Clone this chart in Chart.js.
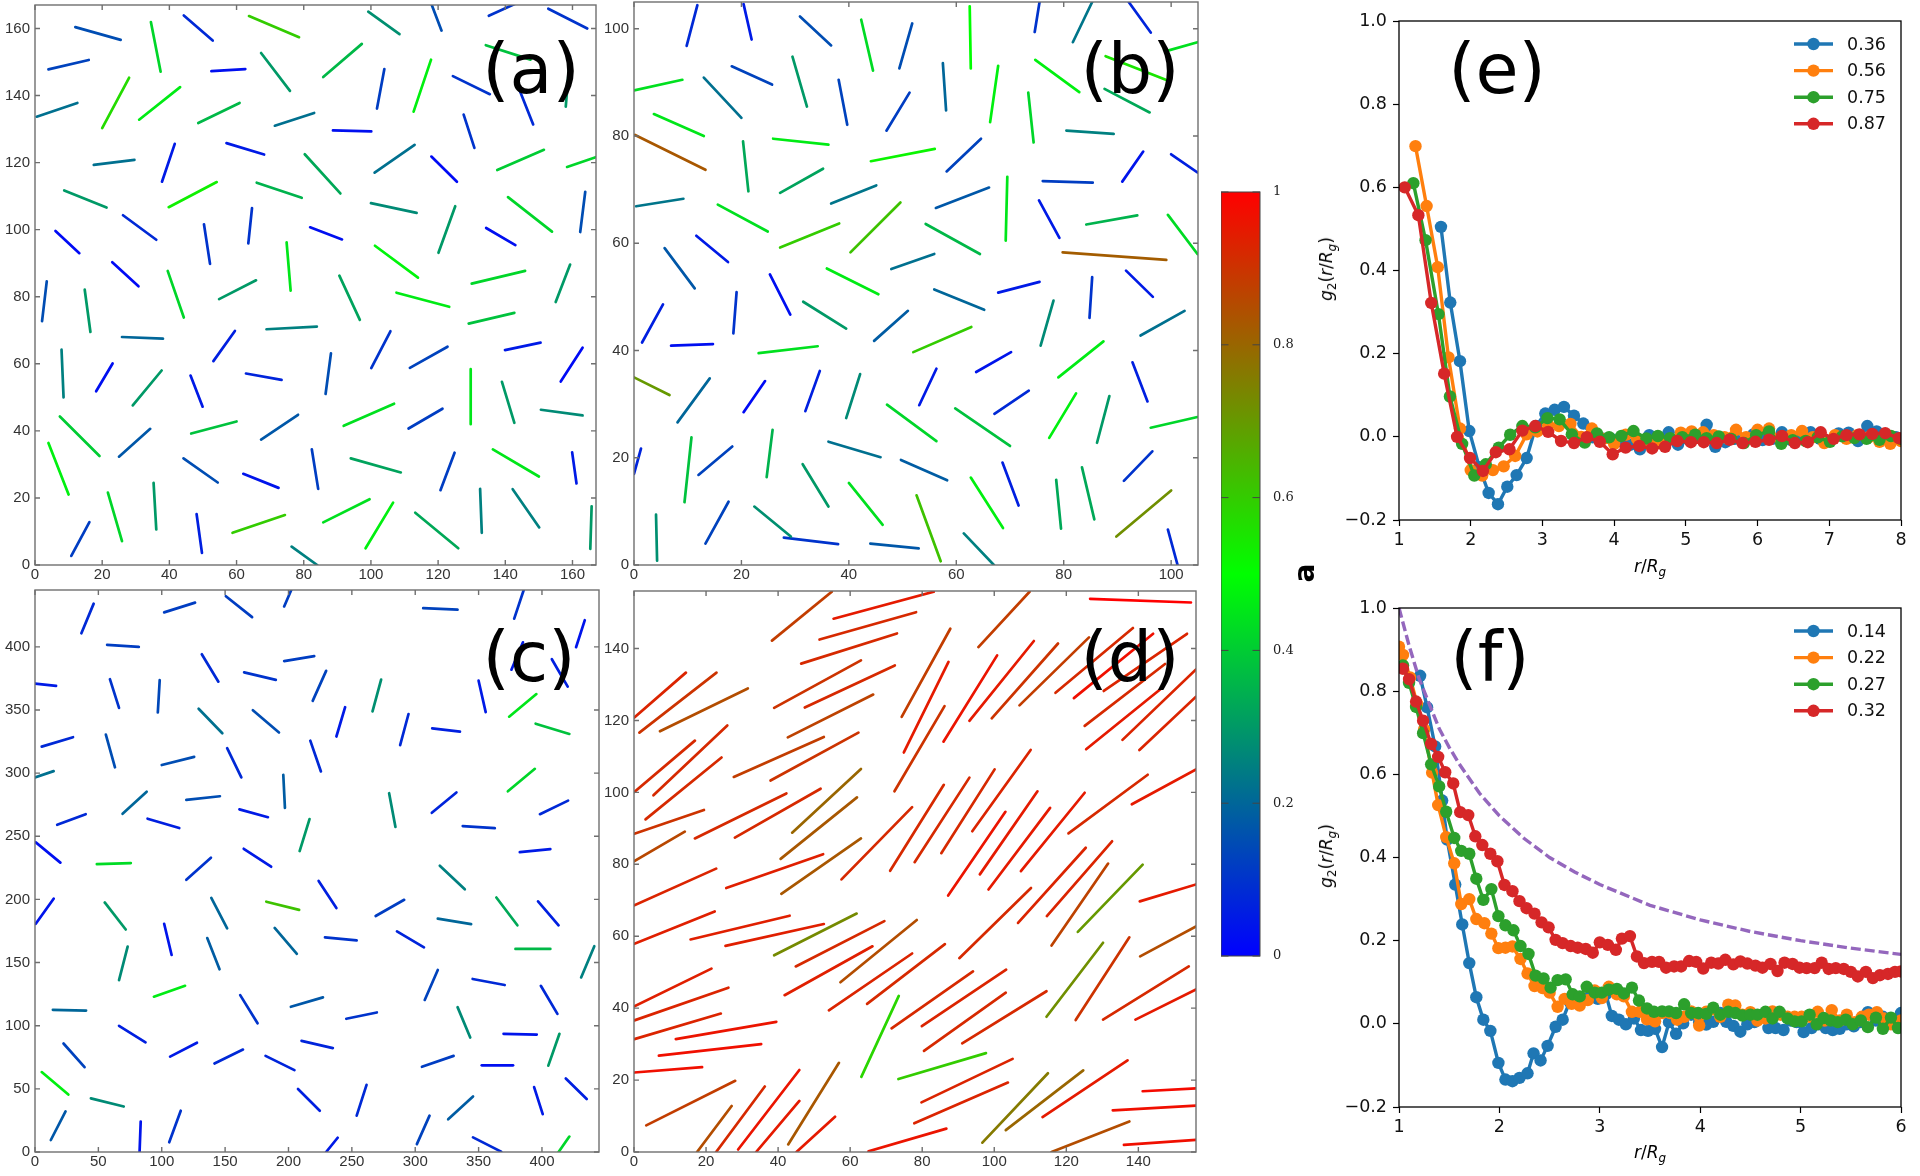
<!DOCTYPE html>
<html>
<head>
<meta charset="utf-8">
<title>Rod configurations and g2</title>
<script src="https://cdn.jsdelivr.net/npm/chart.js@4"></script>
<style>
  html, body { margin: 0; background: #fff; }
  body { position: relative; width: 1920px; height: 1176px; overflow: hidden; }
  canvas { position: absolute; }
  .label { position: absolute; white-space: nowrap; font-family: "DejaVu Sans"; color: #000; }
  sub { font-size: .7em; line-height: 0; }
</style>
</head>
<body>
<script>
// each row: x1, y1, x2, y2, a
const segmentsA = [
  [12,160.4,25.5,156.6,.15],[34.5,161.9,37.4,147.1,.42],[44.3,163.9,52.9,156.4,.08],[63.7,163.7,78.6,157.4,.6],
  [99.2,165,108.5,158.3,.28],[118,167.3,121,159.4,.15],[135.1,163.8,142.8,167.3,.1],[152.8,165.9,164.4,160,.1],
  [4,147.8,16,150.6,.13],[52.5,147.3,62.6,147.9,.03],[67.3,152.7,75.9,141.4,.3],[85.8,145.5,97.3,155.4,.36],
  [104,147.9,101.8,136.1,.12],[117.9,150.7,112.7,135.2,.47],[134.2,155,147.5,150.7,.38],[124.4,145.8,135.4,140.4,.1],
  [158.9,147.7,158,136.7,.3],[.5,133.7,12.6,137.8,.22],[28,145.3,20,130.3,.57],[31,132.8,43.2,142.5,.46],
  [48.6,131.8,60.9,137.8,.36],[71.4,131,83.1,134.8,.22],[88.7,129.6,100.1,129.3,.03],[144.2,141.7,148.3,131.4,.08],
  [127.6,134.3,130.8,124.4,.1],[57,125.8,68.2,122.4,.05],[17.5,119.3,29.6,120.8,.22],[37.8,114.3,41.6,125.6,.05],
  [80.3,122.5,90.9,110.8,.33],[101.1,117,113,125.3,.22],[118,121.8,125.6,114.3,.02],[137.6,117.8,151.5,123.8,.4],
  [158.4,118.7,166.9,121.6,.42],[8.7,111.7,21.3,106.6,.3],[39.8,106.7,54.1,114.2,.53],[66,114,79.4,109.5,.35],
  [100,107.9,113.6,105,.27],[125.1,107,120.1,93.1,.3],[140.8,109.7,153.9,99.4,.42],[163.8,111.3,162.3,99.3,.15],
  [26.2,104.3,36.1,97,.08],[50.3,101.6,52.1,89.8,.1],[64.6,106.4,63.5,95.9,.1],[81.9,100.7,91.4,97.1,.03],
  [134.3,100.5,143,95.4,.03],[6.1,99.6,13.2,93,.02],[74.9,96.2,76.1,81.8,.45],[101.2,95.2,114,85.7,.48],
  [23,90.3,30.8,83.1,.02],[39.5,87.7,44.3,73.8,.42],[90.6,86.3,96.7,73.1,.32],[54.8,79.3,65.8,84.9,.3],
  [130,83.9,145.9,87.7,.42],[159.3,89.6,155,78.4,.3],[107.6,81.2,123.3,77,.46],[3.5,84.6,2.1,72.7,.15],
  [14.8,82.1,16.5,69.5,.3],[25.9,68,38.1,67.5,.2],[53.1,60.8,59.5,69.8,.06],[68.9,70.3,83.9,71.1,.25],
  [105.8,69.7,100.1,58.7,.1],[129.1,72,142.7,75.2,.38],[7.9,64.2,8.5,50,.25],[23.1,60.1,18.2,51.8,.03],
  [37.7,58,29.1,47.6,.3],[62.8,57.1,73.4,55.2,.07],[88.1,63.1,86.5,51,.15],[111.6,58.8,122.8,65.1,.13],
  [139.9,64.1,150.5,66.3,.05],[163,64.8,156.5,54.7,.02],[46.3,56.5,49.9,47.2,.05],[129.7,58.4,129.7,42,.45],
  [139,54.6,142.7,42.4,.3],[150.6,46.3,163,44.6,.27],[91.9,41.5,106.9,48.1,.44],[67.3,37.4,78.3,44.8,.17],
  [46.5,39.2,60,42.8,.38],[111.2,40.7,121.3,46.6,.12],[7.4,44.3,19.2,32.5,.4],[25,32.3,34.3,40.6,.17],
  [4,36.4,10,21,.47],[44.2,31.8,54.4,24.6,.15],[62,27.2,72.5,23,.04],[82.4,34.5,84.3,22.7,.12],
  [94,31.8,108.9,27.6,.32],[124.9,33.5,120.7,22.3,.12],[136.3,34.5,150,26.4,.45],[159.9,33.6,161.2,24.3,.05],
  [21.7,21.6,25.9,7.1,.42],[35.3,24.5,36.1,10.6,.3],[16.2,12.8,10.8,2.7,.12],[48.1,15.2,49.7,3.6,.06],
  [58.8,9.6,74.4,14.9,.6],[85.8,12.7,99.6,19.6,.44],[106.6,18.6,98.4,5,.47],[113.2,15.6,126,5,.33],
  [132.5,22.7,133,9.6,.25],[142.2,22.6,150.1,11.2,.25],[165.7,17.5,165.3,4.8,.3],[76.4,5.5,84,0,.25]
];
const segmentsB = [
  [11.8,104.4,9.8,96.8,.08],[20.4,104.6,21.9,98,.05],[30.9,102.3,36.7,96.9,.15],[42.3,101.7,44.5,92.2,.43],
  [51.8,101,49.4,92.6,.15],[62.5,104.2,62.7,92.6,.5],[75.5,105,74.6,99.4,.1],[85.3,105,81.7,97.5,.23],
  [92.1,105,96.2,99.3,.07],[98.9,95.8,104.9,97.5,.44],[87.8,94.9,99,90.5,.55],[0,88.5,9,90.5,.44],
  [18.2,93,25.7,89.6,.13],[29.5,94.8,32.2,85.5,.3],[38.1,90.5,39.7,82.1,.13],[51.3,88.1,47,81,.12],
  [57.5,93.6,58.1,84.8,.2],[67.8,93.1,66.3,82.6,.47],[74.7,94.2,82.9,88.2,.47],[73.4,88.1,74.4,78.8,.42],
  [87.6,88.8,96,84.4,.33],[13,90.9,20,83.4,.22],[3.7,84.1,13,80,.45],[.2,80.2,13.3,73.7,.83],
  [25.9,79.5,36.2,78.4,.46],[20.3,79,21.3,69.7,.33],[44.1,75.3,56,77.6,.52],[64.6,79.5,58.2,73.4,.13],
  [80.5,81,89.3,80.4,.25],[94.8,77.1,90.9,71.5,.04],[100,76.6,104.9,73.2,.06],[27.2,69.4,35.2,73.9,.32],
  [36.7,67.4,45.1,70.8,.23],[.4,66.9,9.2,68.3,.23],[56.2,66.6,66.1,70.4,.17],[76.1,71.6,85.4,71.3,.12],
  [69.5,72.4,69.2,60.5,.45],[15.6,67.2,24.9,62.2,.44],[27.2,59.2,38.2,63.7,.6],[49.6,67.6,40.3,58.3,.62],
  [54.3,63.6,64.4,58,.36],[75.4,68,79.2,61,.05],[84.2,63.5,93.7,65.2,.35],[99.4,65.3,104.9,58,.43],
  [11.6,61.4,17.5,56.5,.05],[5.7,59.1,11.3,51.6,.17],[79.8,58.3,99.1,56.9,.82],[47.9,55.2,55.9,58,.22],
  [35.9,55.3,45.5,50.5,.46],[25.3,54.2,29.1,46.7,.03],[19.1,50.9,18.5,43.2,.1],[5.4,48.6,1.5,41.5,.06],
  [31.5,49.1,39.5,44.1,.3],[55.9,51.4,65.2,47.6,.2],[67.8,50.8,75.5,52.8,.05],[85.3,53.7,84.8,46.1,.1],
  [91.6,54.9,96.6,50,.05],[51,47.4,44.7,41.8,.18],[78.1,49.3,75.7,40.9,.27],[102.5,47.4,94.3,42.8,.22],
  [6.9,40.9,14.7,41.2,.03],[23.2,39.5,34.2,40.8,.44],[52,39.7,62.8,44.4,.6],[70.2,39.7,63.7,36,.04],
  [87.4,41.7,79,35,.46],[92.8,37.8,95.6,30.5,.06],[0,35,6.6,31.7,.7],[14.1,34.8,8.1,26.6,.2],
  [34.6,36.2,31.9,28.7,.06],[42.1,35.6,39.5,27.4,.27],[56.3,36.6,53.1,29.8,.05],[24.4,34.3,20.4,28.5,.02],
  [73.5,32.5,67.1,28.2,.08],[82.3,32,77.3,23.7,.47],[88.5,31.5,86.2,22.8,.3],[47.1,29.9,56.3,23.1,.42],
  [59.8,29.2,70,22.2,.38],[96.2,25.6,104.9,27.6,.42],[25.8,25.2,24.7,16.4,.35],[10.7,23.8,9.4,11.7,.38],
  [0,17,1.3,21.7,.07],[18.3,22.1,12,16.8,.13],[36.2,23,45.9,20.1,.22],[49.7,19.6,58.3,15.8,.18],
  [96.5,21.2,91.2,15.7,.1],[31.4,18.8,36.2,10.9,.3],[40,15.3,46.3,7.5,.44],[62.7,16.3,68.7,6.9,.47],
  [68.6,19.1,71.6,11.1,.06],[78.6,15.9,79.5,6.8,.33],[83.4,18.2,85.7,8.5,.33],[100,13.9,89.8,5.3,.72],
  [17.6,11.8,13.3,4,.13],[22.4,10.9,29.2,5.3,.28],[52.6,13,57.1,.7,.62],[4.1,9.4,4.3,.8,.28],
  [27.9,5.1,38,3.9,.1],[44,4,53,3.1,.17],[61.4,5.9,67,0,.25],[99.4,6.6,101.2,0,.08]
];
const segmentsC = [
  [46.3,434.2,36.6,410.7,.08],[101.9,427.3,126.3,435,.12],[150.6,440.1,171.3,423.5,.12],[202.2,445,196.6,432,.12],
  [306.3,430.6,333.4,429.4,.13],[385.6,445,378.1,422.3,.1],[433.8,421.1,426.9,399.7,.04],[56.9,401.5,81.9,400,.12],
  [385,403.6,375.9,381.9,.05],[196.6,388.7,220.3,392.6,.12],[131.6,394.1,144.7,372.4,.08],[407.8,390.2,420.3,368.5,.06],
  [165,379.8,190,373.8,.1],[229.7,381,219.1,357.2,.13],[273.1,374.1,266.3,348.9,.28],[0,370.9,16.6,369.1,.05],
  [59.1,374.4,66.3,351.6,.1],[98.4,373.6,96.9,348,.14],[350,373.2,355.6,348.3,.05],[395.6,362.6,374.1,344.7,.45],
  [129.1,351,147.8,331.6,.22],[171.9,349.8,192.5,332.2,.15],[244.7,352.2,237.8,329,.05],[294.7,346.8,288.1,322.1,.08],
  [313.4,335.5,335.3,332.8,.06],[395,339.1,421.6,331,.38],[5.3,321,30,328.4,.08],[55.9,330.5,63.1,304.6,.15],
  [217.2,325.7,225.6,301.3,.08],[151.6,319.8,162.8,296.6,.08],[100,306.4,125.6,312.9,.15],[0,296.6,14.7,301.6,.22],
  [195.9,298.7,197.2,272.5,.18],[394.4,303.4,373.1,285.6,.42],[88.1,285.3,69.1,267.8,.2],[119.4,278.8,145.9,281.7,.15],
  [279.4,284.1,284.4,257.4,.27],[332.5,284.7,313.1,268.6,.07],[420.6,278.2,398.4,267.5,.08],[17.5,259.1,40,267.5,.08],
  [161.3,271.3,183.8,265.1,.05],[88.8,263.9,113.8,256.5,.06],[216.6,263.6,208.8,238.3,.3],[337.5,258,362.8,256.5,.1],
  [.6,245.2,20,229.1,.03],[48.8,227.9,75.6,228.8,.43],[382.5,237.4,406.6,239.8,.05],[164.7,240.1,186.3,225.9,.05],
  [138.8,233,119.4,215.5,.1],[319.4,226.7,339.1,208,.25],[223.8,214.6,237.8,193.2,.06],[291.3,199.7,268.8,186.9,.12],
  [14.7,200.6,.6,180.7,.04],[55,197.6,71.6,176.2,.3],[139.1,201.2,151.6,177.1,.2],[182.5,198.2,208.4,191.7,.62],
  [317.8,184.8,344.1,180.4,.2],[364,201.5,380.6,179.5,.33],[396.9,198.5,413.1,179.5,.06],[101.9,180.7,107.8,156,.04],
  [189.1,177.4,206.6,156.9,.2],[228.8,170,253.8,167.6,.1],[285.6,174.7,306.9,162,.07],[73.1,162.6,66.3,136.1,.27],
  [135.9,169.4,145.6,144.7,.18],[379.1,160.8,406.6,160.8,.36],[441.3,162.9,430.9,138.2,.25],[317.8,144.1,307.5,120.4,.13],
  [345.3,137,370.6,132.2,.08],[93.8,123,118.4,131.6,.46],[161.9,124.2,175.6,101.9,.1],[201.9,115,227.2,122.4,.17],
  [245.6,105.5,269.7,110.5,.1],[399.1,131.6,412.2,109.4,.08],[14.1,112.6,40.3,112,.2],[66.3,99.9,87.2,86.8,.06],
  [333.4,114.7,343.4,90.6,.27],[369.7,93.6,395.9,93,.04],[413.8,93.6,405,68.4,.3],[22.5,85.9,39.1,67.2,.13],
  [106.6,75.5,127.8,86.5,.05],[210.3,88,235,82.3,.07],[141.6,70.1,164.1,81.1,.08],[181.9,76.1,204.7,64.8,.07],
  [305.3,67.5,330.3,76.1,.12],[352.5,68.6,377.2,68.6,.03],[5.3,63.3,26.3,45.5,.47],[44.1,42.5,70,36,.27],
  [207.5,49.9,224.7,32.7,.06],[261.6,53.2,253.8,28.8,.08],[418.8,58.2,435.3,41.9,.06],[393.8,51.4,400.6,30,.05],
  [345.6,44,326,25.9,.18],[24.1,32.1,12.5,9.5,.17],[83.4,24.1,82.5,0,.04],[115,32.7,105.9,7.7,.1],
  [311.3,28.8,301.3,6.2,.13],[238.8,11.3,229.7,0,.05],[345.6,11.6,367.8,.3,.08],[421.6,12.2,413.1,0,.42]
];
const segmentsD = [
  [38.3,142.2,54.9,155.8,.88],[55.4,148.3,83.2,155.8,.95],[51.5,142.5,78.3,150.1,.92],[46.4,135.8,73,144.2,.92],
  [38.9,123.5,63,136.7,.9],[47.4,123.6,72.4,135.3,.92],[42.7,115.3,66.4,127.2,.87],[.1,120.8,14.4,133.3,.93],
  [1.5,116.6,22.9,133.3,.9],[7.2,117,31.6,128.9,.85],[.1,100.1,16.9,114.4,.92],[5.4,99.2,25.9,118.6,.92],
  [3.2,92.5,24.3,109.7,.92],[27.7,104.3,52.7,115.4,.88],[37.9,103.3,62.3,116.6,.9],[43.9,88.8,63,106.5,.8],
  [40.7,81.5,61.9,98.6,.83],[40.9,71.8,63,87.2,.83],[.1,88.5,19.4,95.1,.9],[.1,80.9,14.1,89.1,.86],
  [16.9,87.2,42.3,99.7,.92],[28,87.4,51.8,101,.92],[.1,68.6,22.8,78.8,.93],[25.6,73.4,52.5,82.8,.94],
  [.1,57.9,22.4,66.9,.94],[15.7,59.1,43.2,65.7,.94],[25.4,57.3,52.7,63.4,.94],[38.9,54.7,61.8,66.3,.73],
  [57.6,75.8,77.2,95.9,.92],[71.1,78.2,86,102.1,.92],[77.9,80.6,93.1,104.1,.92],[85.3,83.1,100.1,106.4,.92],
  [93.9,89.2,110.1,111.8,.93],[87.2,71.3,103.1,94.6,.96],[96,77.2,112,100.3,.95],[98.4,73,115.5,95.7,.95],
  [107.4,78.1,125.1,99.9,.95],[120.6,88.6,142.6,104.9,.92],[138.2,96.7,156,106.4,.95],[72.3,100.3,86.2,124,.9],
  [74.9,111.1,87.3,136.3,.95],[74.3,121,87.8,145.5,.88],[85.9,114.1,100.8,138.1,.96],[93.1,119.9,111,142.1,.95],
  [99.3,120.6,117.7,141.4,.9],[95.6,140.4,109.8,155.8,.88],[107,124.2,126.3,143.1,.88],[126.6,153.8,154.6,152.8,1],
  [117,127.7,138.5,145.7,.92],[122.1,126.2,144.1,144.1,.97],[130.4,128.2,153.5,144.1,.93],[125.1,118.5,147.4,135.7,.92],
  [125.5,112,146.1,128.7,.95],[135.6,114.6,156,134.2,.93],[140.3,111.8,156,126.6,.93],[106.6,63.7,125.4,84.6,.93],
  [114.6,65.6,132.7,86.4,.93],[115.9,57.4,131.6,80.2,.87],[123.2,61.2,141.2,79.9,.7],[90.3,53.9,110.2,73.4,.92],
  [140.4,69.7,156,74.4,.95],[140.5,54.4,156,62.7,.85],[114.5,37.6,130.2,58.2,.72],[122.6,36.7,137.5,59.7,.9],
  [130.2,36.8,154,51.6,.92],[139.2,36.8,156,45.2,.95],[44.9,51.6,69.5,64.2,.92],[41.8,43.6,66.2,57.2,.94],
  [57.3,47.2,78.5,64.5,.85],[54.1,39.4,77.2,55.2,.93],[64.7,41.2,86.3,57.8,.92],[71.5,34.4,94.1,50.2,.92],
  [79.9,35,103.3,50.7,.93],[80.5,28.1,103.2,44.3,.92],[91.1,30.2,114.5,44.7,.92],[.1,40.5,21.5,51,.94],
  [.1,36.6,26.2,45.7,.93],[.1,31.4,24.1,38.5,.93],[11.6,31.4,39.5,36.2,.96],[6.9,26.8,35.3,30,.97],
  [.1,22.1,18.9,23.6,.97],[3.4,7.4,28.1,19.8,.88],[17.5,0,27.1,12.8,.85],[22.8,0,36.3,18.2,.92],
  [28.9,.7,45.9,22.8,.96],[33.9,0,45.9,14.2,.95],[42.8,2.1,56.9,24.8,.83],[45.1,0,55.8,9.8,.95],
  [63.1,20.9,73.5,43.4,.58],[73.4,20.3,97.7,27.5,.6],[79.8,13.8,105.1,25.9,.93],[77.8,8,103.8,19.3,.93],
  [96.7,2.6,114.9,21.9,.76],[103.2,6.1,124.7,22.7,.8],[113.4,9.7,137,25.5,.95],[141.2,16.9,156,17.7,.98],
  [132.9,11.6,156,12.9,.97],[115.9,0,137.5,8.5,.85],[136,2,156,3.4,.97],[65.1,.2,86.7,6.5,.96]
];

// panel e, r/Rg and g2 pairs
const e036 = [[1.585,.505],[1.715,.323],[1.85,.182],[1.98,.014],[2.12,-.073],[2.25,-.135],[2.38,-.162],[2.51,-.12],[2.64,-.092],[2.78,-.051],[2.91,.026],[3.04,.056],[3.17,.065],[3.3,.072],[3.44,.051],[3.57,.032],[3.7,-.001],[3.83,-.004],[3.96,-.005],[4.1,-.01],[4.23,-.019],[4.36,-.03],[4.49,.004],[4.62,-.005],[4.76,.011],[4.89,-.019],[5.02,-.005],[5.15,-.001],[5.29,.029],[5.41,-.024],[5.55,-.013],[5.68,-.005],[5.81,-.008],[5.94,.006],[6.07,-.008],[6.21,-.005],[6.34,.011],[6.47,-.008],[6.6,-.003],[6.74,.011],[6.87,-.005],[7,-.01],[7.13,.008],[7.27,.01],[7.4,-.01],[7.53,.026],[7.66,.013],[7.79,.004],[7.93,-.001]];
const e056 = [[1.23,.699],[1.385,.555],[1.54,.408],[1.69,.191],[1.85,.02],[2,-.08],[2.16,-.093],[2.31,-.08],[2.46,-.071],[2.62,-.046],[2.78,.006],[2.93,.013],[3.08,.028],[3.23,.026],[3.39,.031],[3.54,0],[3.69,.02],[3.85,-.005],[4,-.017],[4.16,.005],[4.32,-.005],[4.47,-.014],[4.62,-.01],[4.78,-.005],[4.93,.01],[5.08,.013],[5.24,.011],[5.39,.004],[5.54,-.001],[5.7,.017],[5.84,-.001],[6,.017],[6.16,.02],[6.31,-.005],[6.47,.004],[6.62,.014],[6.77,-.001],[6.93,-.015],[7.08,.004],[7.24,-.005],[7.39,.004],[7.55,-.001],[7.7,-.012],[7.85,-.017],[8,-.01]];
const e075 = [[1.2,.61],[1.37,.473],[1.55,.295],[1.71,.097],[1.88,-.017],[2.05,-.093],[2.21,-.066],[2.39,-.026],[2.55,.005],[2.72,.026],[2.9,.023],[3.07,.045],[3.24,.042],[3.41,.006],[3.59,-.014],[3.76,.008],[3.93,-.001],[4.1,.002],[4.27,.014],[4.45,-.004],[4.61,.002],[4.78,-.003],[4.95,-.001],[5.13,.005],[5.29,-.003],[5.46,.001],[5.63,-.005],[5.81,-.015],[5.98,.004],[6.16,.013],[6.33,-.017],[6.49,-.008],[6.67,-.01],[6.84,-.001],[7.01,-.012],[7.18,.001],[7.35,-.003],[7.52,-.005],[7.7,-.007],[7.86,.002],[8,-.005]];
const e087 = [[1.08,.6],[1.27,.533],[1.45,.322],[1.63,.152],[1.81,0],[1.99,-.051],[2.17,-.082],[2.35,-.037],[2.54,-.03],[2.72,.015],[2.9,.026],[3.08,.012],[3.26,-.01],[3.44,-.015],[3.62,-.001],[3.8,-.012],[3.98,-.042],[4.16,-.026],[4.35,-.022],[4.53,-.028],[4.71,-.024],[4.88,-.01],[5.07,-.013],[5.25,-.013],[5.43,-.015],[5.61,-.007],[5.79,-.015],[5.97,-.012],[6.16,-.007],[6.34,.002],[6.52,-.015],[6.7,-.013],[6.88,.011],[7.06,-.005],[7.24,.004],[7.42,.006],[7.6,.007],[7.78,.009],[7.97,-.003]];

// panel f
const f014 = [[1.21,.837],[1.28,.761],[1.36,.667],[1.43,.537],[1.48,.443],[1.56,.335],[1.63,.239],[1.7,.146],[1.77,.064],[1.84,.01],[1.91,-.017],[1.99,-.094],[2.06,-.134],[2.13,-.138],[2.2,-.13],[2.28,-.119],[2.34,-.071],[2.41,-.088],[2.48,-.053],[2.56,-.007],[2.63,.01],[2.7,.053],[2.79,.057],[2.88,.062],[2.98,.06],[3.06,.071],[3.12,.019],[3.19,.01],[3.26,-.001],[3.34,.013],[3.41,-.015],[3.48,-.017],[3.55,-.012],[3.62,-.056],[3.69,.004],[3.76,-.024],[3.83,.001],[3.91,.022],[3.99,.004],[4.06,-.002],[4.13,.005],[4.2,.026],[4.26,.005],[4.33,-.005],[4.4,-.019],[4.47,-.001],[4.54,.004],[4.61,.017],[4.68,-.01],[4.75,-.01],[4.83,-.015],[4.9,.008],[4.96,.004],[5.03,-.02],[5.11,-.01],[5.18,-.001],[5.25,-.01],[5.32,-.015],[5.39,-.012],[5.46,-.001],[5.53,-.006],[5.6,.004],[5.67,.028],[5.75,.008],[5.82,.017],[5.89,.004],[6,.026]];
const f022 = [[1,.907],[1.04,.887],[1.11,.833],[1.18,.77],[1.25,.708],[1.33,.604],[1.39,.526],[1.47,.449],[1.55,.386],[1.62,.288],[1.7,.3],[1.77,.252],[1.85,.242],[1.92,.217],[1.99,.182],[2.06,.183],[2.13,.186],[2.21,.156],[2.28,.121],[2.35,.091],[2.43,.086],[2.5,.075],[2.58,.041],[2.65,.06],[2.72,.048],[2.8,.044],[2.88,.057],[2.95,.08],[3.02,.062],[3.09,.089],[3.17,.071],[3.24,.066],[3.32,.029],[3.4,.029],[3.47,.011],[3.55,.006],[3.62,.026],[3.7,.026],[3.77,.01],[3.84,.017],[3.91,.03],[3.99,-.004],[4.06,.029],[4.13,.035],[4.2,.017],[4.28,.046],[4.35,.044],[4.42,.022],[4.5,.028],[4.57,.008],[4.65,.013],[4.72,.03],[4.8,.022],[4.87,.017],[4.94,.017],[5.01,.017],[5.09,.017],[5.17,.029],[5.24,.008],[5.31,.033],[5.39,.008],[5.46,.022],[5.54,.004],[5.61,.017],[5.68,.022],[5.76,.028],[5.83,.013],[5.9,-.001],[6,.008]];
const f027 = [[1.04,.862],[1.1,.82],[1.17,.762],[1.24,.699],[1.32,.624],[1.4,.571],[1.47,.51],[1.55,.447],[1.62,.416],[1.7,.409],[1.77,.349],[1.84,.298],[1.92,.324],[1.99,.259],[2.06,.237],[2.14,.225],[2.21,.187],[2.29,.168],[2.36,.116],[2.44,.109],[2.51,.087],[2.58,.105],[2.66,.107],[2.73,.071],[2.8,.066],[2.87,.089],[2.95,.075],[3.02,.075],[3.09,.082],[3.17,.084],[3.24,.073],[3.32,.087],[3.39,.056],[3.47,.037],[3.54,.029],[3.62,.03],[3.69,.03],[3.76,.026],[3.84,.047],[3.91,.026],[3.98,.026],[4.06,.024],[4.13,.039],[4.2,.022],[4.28,.029],[4.35,.026],[4.42,.02],[4.5,.022],[4.57,.022],[4.65,.029],[4.72,.013],[4.79,.029],[4.87,.013],[4.94,.006],[5.01,.006],[5.09,.022],[5.16,-.001],[5.23,.014],[5.3,.008],[5.37,.004],[5.45,.01],[5.52,-.001],[5.6,.008],[5.67,-.008],[5.75,.015],[5.82,-.012],[5.9,.015],[5.97,-.01]];
const f032 = [[1.04,.854],[1.1,.829],[1.17,.775],[1.24,.729],[1.32,.673],[1.39,.642],[1.46,.605],[1.54,.578],[1.61,.509],[1.69,.502],[1.76,.451],[1.83,.43],[1.91,.409],[1.98,.391],[2.05,.334],[2.13,.319],[2.2,.295],[2.27,.278],[2.35,.265],[2.42,.244],[2.49,.232],[2.56,.202],[2.63,.194],[2.71,.187],[2.78,.183],[2.86,.18],[2.93,.171],[3,.196],[3.08,.19],[3.16,.178],[3.22,.205],[3.3,.211],[3.37,.162],[3.44,.146],[3.52,.149],[3.59,.149],[3.66,.135],[3.74,.138],[3.81,.138],[3.89,.151],[3.96,.149],[4.03,.133],[4.11,.147],[4.18,.145],[4.25,.154],[4.33,.143],[4.4,.15],[4.47,.145],[4.55,.14],[4.62,.135],[4.7,.144],[4.77,.127],[4.84,.147],[4.92,.144],[4.99,.135],[5.06,.134],[5.14,.134],[5.21,.147],[5.28,.132],[5.35,.134],[5.43,.132],[5.5,.125],[5.57,.114],[5.65,.125],[5.72,.11],[5.79,.117],[5.87,.12],[5.94,.125],[6,.126]];
const fDashed = [[1,1],[1.1,.91],[1.2,.83],[1.3,.77],[1.4,.71],[1.5,.665],[1.6,.625],[1.8,.555],[2,.5],[2.25,.445],[2.5,.4],[2.75,.365],[3,.335],[3.5,.285],[4,.25],[4.5,.222],[5,.2],[5.5,.182],[6,.167]];

const colorbarTicks = ['0', '0.2', '0.4', '0.6', '0.8', '1'];
const seriesColors = ['#1f77b4', '#ff7f0e', '#2ca02c', '#d62728'];

const SANS = '"Liberation Sans"';
const DEJAVU = '"DejaVu Sans"';

// blue at 0, green at 0.5, red at 1
function colorOf(a) {
  const t = a < .5 ? a / .5 : (a - .5) / .5;
  return a < .5
    ? `rgb(0,${Math.round(255 * t)},${Math.round(255 * (1 - t))})`
    : `rgb(${Math.round(255 * t)},${Math.round(255 * (1 - t))},0)`;
}

// border on four sides, plus ticks pointing inward if asked
const frame = {
  id: 'frame',
  afterDraw(chart, args, o) {
    const { ctx, chartArea: a, scales } = chart;
    ctx.save();
    ctx.strokeStyle = o.color;
    ctx.lineWidth = o.width;
    ctx.strokeRect(a.left, a.top, a.width, a.height);
    if (o.inner) {
      ctx.beginPath();
      if (o.xTicks !== false) scales.x.ticks.forEach(t => {
        const p = scales.x.getPixelForValue(t.value);
        ctx.moveTo(p, a.top); ctx.lineTo(p, a.top + o.inner);
        ctx.moveTo(p, a.bottom); ctx.lineTo(p, a.bottom - o.inner);
      });
      scales.y.ticks.forEach(t => {
        const p = scales.y.getPixelForValue(t.value);
        ctx.moveTo(a.left, p); ctx.lineTo(a.left + o.inner, p);
        ctx.moveTo(a.right, p); ctx.lineTo(a.right - o.inner, p);
      });
      ctx.stroke();
    }
    ctx.restore();
  }
};

// matplotlib style legend, line with a dot through it
const lineLegend = {
  id: 'lineLegend',
  afterDraw(chart) {
    const { ctx, chartArea: a } = chart;
    let row = 0;
    ctx.save();
    chart.data.datasets.forEach(d => {
      if (!d.label) return;
      const y = a.top + 23 + row * 26.6;
      const x0 = a.right - 107, x1 = a.right - 68;
      ctx.strokeStyle = d.borderColor;
      ctx.lineWidth = 3.4;
      ctx.beginPath(); ctx.moveTo(x0, y); ctx.lineTo(x1, y); ctx.stroke();
      ctx.fillStyle = d.borderColor;
      ctx.beginPath(); ctx.arc((x0 + x1) / 2, y, 6.2, 0, Math.PI * 2); ctx.fill();
      ctx.fillStyle = '#111';
      ctx.font = `17.5px ${DEJAVU}`;
      ctx.textBaseline = 'middle';
      ctx.fillText(d.label, a.right - 54, y + 1);
      row++;
    });
    ctx.restore();
  }
};

function addCanvas(box, ml, mb, mt, mr) {
  const c = document.createElement('canvas');
  c.width = box.w + ml + mr;
  c.height = box.h + mt + mb;
  c.style.left = (box.x - ml) + 'px';
  c.style.top = (box.y - mt) + 'px';
  document.body.appendChild(c);
  return c;
}

function addText(html, x, y, font, rotate) {
  const d = document.createElement('div');
  d.className = 'label';
  d.innerHTML = html;
  d.style.left = x + 'px';
  d.style.top = y + 'px';
  d.style.font = font;
  d.style.transform = `translate(-50%,-50%) rotate(${rotate || 0}deg)`;
  d.style.zIndex = 5;
  document.body.appendChild(d);
}

function rodPanel(box, segments, xMax, yMax, xStep, yStep) {
  // y ticks push the area in by half a label plus their padding, so keep mt above that
  const ml = 35, mb = 24, mt = 16, mr = 20;
  const tickFont = { family: SANS, size: 15 };
  new Chart(addCanvas(box, ml, mb, mt, mr), {
    type: 'scatter',
    data: {
      datasets: segments.map(s => ({
        data: [{ x: s[0], y: s[1] }, { x: s[2], y: s[3] }],
        showLine: true,
        borderColor: colorOf(s[4]),
        borderWidth: 2.7,
        borderCapStyle: 'round',
        pointRadius: 0,
        clip: 0
      }))
    },
    options: {
      responsive: false,
      animation: false,
      layout: { padding: { top: mt, right: mr } },
      plugins: {
        legend: { display: false },
        tooltip: { enabled: false },
        frame: { color: '#6f6f6f', width: 1.4, inner: 5 }
      },
      scales: {
        x: {
          type: 'linear', min: 0, max: xMax,
          grid: { display: false, drawTicks: false },
          border: { display: false },
          ticks: { stepSize: xStep, includeBounds: false, autoSkip: false, maxRotation: 0, padding: 1, color: '#333', font: tickFont },
          afterFit: s => { s.height = mb; }
        },
        y: {
          type: 'linear', min: 0, max: yMax,
          grid: { display: false, drawTicks: false },
          border: { display: false },
          ticks: { stepSize: yStep, includeBounds: false, autoSkip: false, padding: 5, color: '#333', font: tickFont },
          afterFit: s => { s.width = ml; }
        }
      }
    },
    plugins: [frame]
  });
}

function g2Panel(box, names, series, xMax, extra) {
  const ml = 60, mb = 40, mt = 20, mr = 18;
  const tickFont = { family: DEJAVU, size: 17.5 };
  const datasets = series.map((s, i) => ({
    label: names[i],
    data: s.map(p => ({ x: p[0], y: p[1] })),
    showLine: true,
    borderColor: seriesColors[i],
    backgroundColor: seriesColors[i],
    borderWidth: 3.4,
    pointRadius: 6.2,
    pointBorderWidth: 0,
    order: series.length - i,
    clip: 0
  }));
  if (extra) datasets.push({
    data: extra.map(p => ({ x: p[0], y: p[1] })),
    showLine: true,
    borderColor: '#9467bd',
    borderWidth: 3.4,
    borderDash: [10, 4],
    pointRadius: 0,
    order: 0,
    clip: 0
  });
  const grid = { drawOnChartArea: false, tickLength: 6, tickColor: '#000', tickWidth: 1.2 };
  new Chart(addCanvas(box, ml, mb, mt, mr), {
    type: 'scatter',
    data: { datasets },
    options: {
      responsive: false,
      animation: false,
      layout: { padding: { top: mt, right: mr } },
      plugins: {
        legend: { display: false },
        tooltip: { enabled: false },
        frame: { color: '#000', width: 1.3 }
      },
      scales: {
        x: {
          type: 'linear', min: 1, max: xMax,
          grid, border: { display: false },
          ticks: { stepSize: 1, autoSkip: false, maxRotation: 0, padding: 4, color: '#111', font: tickFont },
          afterFit: s => { s.height = mb; }
        },
        y: {
          type: 'linear', min: -0.2, max: 1,
          grid, border: { display: false },
          ticks: {
            stepSize: .2, autoSkip: false, padding: 6, color: '#111', font: tickFont,
            callback: v => (Math.abs(v) < 1e-9 ? 0 : v).toFixed(1).replace('-', '\u2212')
          },
          afterFit: s => { s.width = ml; }
        }
      }
    },
    plugins: [frame, lineLegend]
  });
}

function colorbar(box) {
  const mr = 62, mt = 24, mb = 24;
  new Chart(addCanvas(box, 0, mb, mt, mr), {
    type: 'bar',
    data: {
      labels: ['a'],
      datasets: [{
        data: [[0, 1]],
        barPercentage: 1,
        categoryPercentage: 1,
        backgroundColor: ctx => {
          const area = ctx.chart.chartArea;
          if (!area) return colorOf(0);
          const g = ctx.chart.ctx.createLinearGradient(0, area.bottom, 0, area.top);
          g.addColorStop(0, colorOf(0));
          g.addColorStop(.5, colorOf(.5));
          g.addColorStop(1, colorOf(1));
          return g;
        }
      }]
    },
    options: {
      responsive: false,
      animation: false,
      layout: { padding: { top: mt } },
      plugins: {
        legend: { display: false },
        tooltip: { enabled: false },
        frame: { color: '#444', width: 1, inner: 7.5, xTicks: false }
      },
      scales: {
        x: {
          grid: { display: false, drawTicks: false },
          border: { display: false },
          ticks: { display: false },
          afterFit: s => { s.height = mb; }
        },
        y: {
          position: 'right', min: 0, max: 1,
          grid: { display: false, drawTicks: false },
          border: { display: false },
          ticks: {
            stepSize: .2, autoSkip: false, padding: 13, color: '#222',
            font: { family: '"DejaVu Serif"', size: 13 },
            callback: (v, i) => colorbarTicks[i]
          },
          afterFit: s => { s.width = mr; }
        }
      }
    },
    plugins: [frame]
  });
}

rodPanel({ x: 35, y: 5, w: 561, h: 560 }, segmentsA, 167, 167, 20, 20);
rodPanel({ x: 634, y: 2, w: 564, h: 563 }, segmentsB, 105, 105, 20, 20);
rodPanel({ x: 35, y: 590, w: 564, h: 562 }, segmentsC, 445, 445, 50, 50);
rodPanel({ x: 634, y: 591, w: 562, h: 561 }, segmentsD, 156, 156, 20, 20);
colorbar({ x: 1221, y: 192, w: 39, h: 764 });
g2Panel({ x: 1399, y: 21, w: 502, h: 499 }, ['0.36', '0.56', '0.75', '0.87'], [e036, e056, e075, e087], 8);
g2Panel({ x: 1399, y: 608, w: 502, h: 499 }, ['0.14', '0.22', '0.27', '0.32'], [f014, f022, f027, f032], 6, fDashed);

// big panel letters
const letterFont = `70px ${DEJAVU}`;
addText('(a)', 531, 69, letterFont);
addText('(b)', 1130, 69, letterFont);
addText('(c)', 529, 657, letterFont);
addText('(d)', 1130, 657, letterFont);
addText('(e)', 1497, 69, letterFont);
addText('(f)', 1490, 657, letterFont);

// colorbar label and the axis titles of e and f
addText('a', 1303.5, 573, `bold 28px ${DEJAVU}`, -90);
const titleFont = `17px ${DEJAVU}`;
const xTitle = '<i>r</i>/<i>R<sub>g</sub></i>';
const yTitle = '<i>g</i><sub>2</sub>(<i>r</i>/<i>R<sub>g</sub></i>)';
addText(xTitle, 1650, 566, titleFont);
addText(yTitle, 1326, 269, titleFont, -90);
addText(xTitle, 1650, 1152, titleFont);
addText(yTitle, 1326, 856, titleFont, -90);
</script>
</body>
</html>
